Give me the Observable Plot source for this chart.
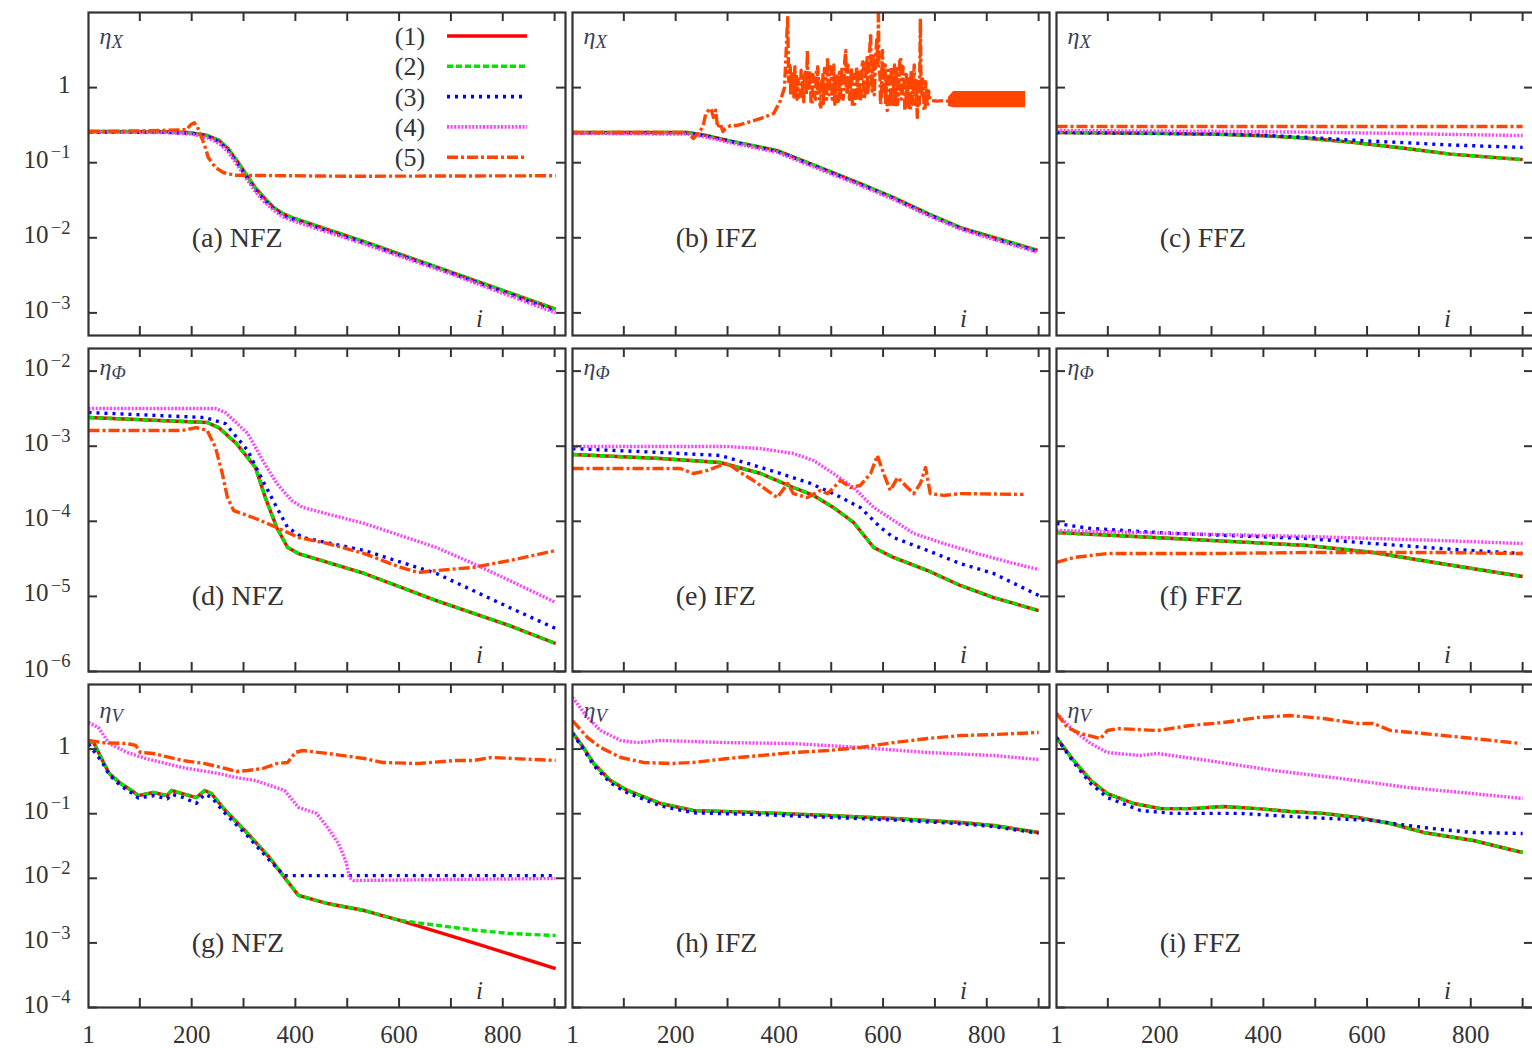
<!DOCTYPE html>
<html><head><meta charset="utf-8">
<script src="https://cdn.jsdelivr.net/npm/d3@7/dist/d3.min.js"></script>
<script src="https://cdn.jsdelivr.net/npm/@observablehq/plot@0.6/dist/plot.umd.min.js"></script>
<style>
body{margin:0;background:#fff;}
#chart{position:relative;width:1532px;height:1048px;overflow:hidden;background:#fff;}
#chart svg{position:absolute;overflow:visible;}
</style></head><body><div id="chart"></div>
<script>
// ---------------- data (x = iteration i, y = error eta) ----------------
const seriesNames = ["(1)", "(2)", "(3)", "(4)", "(5)"];
const panelLabels = ["(a) NFZ","(b) IFZ","(c) FFZ","(d) NFZ","(e) IFZ","(f) FFZ","(g) NFZ","(h) IFZ","(i) FFZ"];
const rowLabels = ["η_X", "η_Φ", "η_V"];
const xDomain = [1, 921];
const xTickValues = [100, 200, 300, 400, 500, 600, 700, 800, 900];
const xLabelValues = [1, 200, 400, 600, 800];
const yDomains = [[5e-4, 10], [1e-6, 2e-2], [1e-4, 10]];
const yTickValues = [[1e-3, 1e-2, 1e-1, 1], [1e-6, 1e-5, 1e-4, 1e-3, 1e-2], [1e-4, 1e-3, 1e-2, 1e-1, 1]];
const yTickLabels = [["10^−3", "10^−2", "10^−1", "1"], ["10^−6", "10^−5", "10^−4", "10^−3", "10^−2"], ["10^−4", "10^−3", "10^−2", "10^−1", "1"]];
const panelLabelX = 200;
const panelLabelY = [1e-2, 1e-5, 1e-3];
const iLabelX = 755;

// (a) NFZ, eta_X
const a1 = [[1,0.26],[150,0.258],[200,0.25],[230,0.23],[253,0.198],[270,0.155],[287,0.107],[305,0.07],[322,0.047],[340,0.034],[359,0.025],[376,0.021],[393,0.0186],[534,0.0088],[700,0.0035],[902,0.00112]];
const a2 = a1;
const a3 = [[1,0.255],[150,0.253],[200,0.245],[230,0.225],[253,0.19],[270,0.148],[287,0.1],[305,0.066],[322,0.044],[340,0.032],[359,0.024],[376,0.02],[393,0.0178],[534,0.0085],[700,0.0034],[902,0.00106]];
const a4 = [[1,0.255],[150,0.252],[200,0.24],[230,0.215],[253,0.18],[270,0.14],[287,0.095],[305,0.062],[322,0.042],[340,0.03],[359,0.023],[376,0.019],[393,0.017],[534,0.0082],[700,0.0033],[902,0.001]];
const a5 = [[1,0.26],[100,0.265],[150,0.27],[190,0.275],[198,0.32],[205,0.34],[211,0.3],[216,0.245],[225,0.17],[232,0.117],[246,0.086],[261,0.074],[283,0.068],[500,0.066],[902,0.067]];
// (b) IFZ, eta_X
const b1 = [[1,0.252],[223,0.252],[260,0.23],[300,0.198],[396,0.145],[493,0.0787],[556,0.0528],[620,0.0344],[686,0.0211],[749,0.0137],[813,0.0101],[898,0.0068]];
const b2 = b1;
const b3 = [[1,0.25],[223,0.249],[260,0.227],[300,0.195],[396,0.142],[493,0.077],[556,0.0515],[620,0.0336],[686,0.0206],[749,0.0134],[813,0.0098],[898,0.0066]];
const b4 = [[1,0.245],[223,0.24],[260,0.218],[300,0.188],[396,0.137],[493,0.074],[556,0.0497],[620,0.0324],[686,0.0199],[749,0.013],[813,0.0095],[898,0.0064]];
const b5 = [[1,0.252],[223,0.252],[234,0.21],[248,0.268],[254,0.333],[258,0.45],[263,0.496],[268,0.527],[273,0.4],[277,0.5],[281,0.294],[286,0.333],[291,0.26],[296,0.285],[306,0.313],[319,0.313],[339,0.343],[364,0.388],[389,0.452],[402,0.673],[410,1.0],
  [416,8.6],[418,1.2],[419,2.0],[421,1.85],[422,0.8],[424,1.6],[425,0.9],[427,1.25],[428,0.75],[430,1.9],[431,0.8],[433,1.5],[434,0.7],[436,1.3],[438,0.75],[441,0.834],[442,1.7],[444,1.3],[445,0.7],[447,0.65],[448,1.4],[450,1.6],[452,0.8],[454,3.12],[455,1.0],[457,0.9],[458,1.7],[460,1.14],[461,0.65],[463,0.6],[464,1.5],[466,1.4],[468,0.75],[470,0.7],[471,1.6],[473,0.834],[474,1.9],[476,1.2],[478,0.6],[480,0.55],[481,1.3],[483,0.9],[484,1.5],[485,0.614],[487,1.8],[489,1.4],[491,0.7],[493,2.52],[494,0.9],[496,0.8],[498,1.9],[500,1.6],[502,0.7],[504,1.14],[505,2.0],[507,0.6],[509,1.5],[511,1.3],[513,0.65],[515,0.7],[516,1.6],[518,0.738],[519,1.2],[521,1.9],[523,0.7],[524,0.9],[526,2.2],[528,3.12],[529,1.0],[531,0.8],[532,2.0],[534,1.7],[535,0.7],[537,1.0],[539,1.8],[541,0.55],[542,1.2],[544,1.5],[545,0.6],[547,0.7],[549,1.9],[551,0.738],[552,1.4],[554,1.6],[556,0.65],[558,0.9],[560,2.3],[562,2.09],[563,0.7],[565,0.8],[567,1.8],[569,2.5],[570,0.8],[572,1.1],[574,3.0],[576,5.25],[577,1.2],[579,0.9],[580,2.2],[582,2.8],[583,0.8],[585,1.85],[587,3.5],[588,4.5],[590,2.0],[591,12],[592,1.8],[594,1.5],[595,0.6],[597,0.7],[598,2.5],[599,3.12],[600,0.9],[602,1.2],[604,2.0],[605,0.6],[607,1.4],[608,0.496],[610,1.7],[611,1.1],[613,0.55],[614,0.6],[616,1.9],[617,1.5],[619,0.6],[620,0.834],[622,2.0],[624,0.55],[625,1.3],[627,1.8],[628,0.6],[630,0.9],[632,2.2],[634,2.52],[635,0.7],[637,0.8],[638,1.9],[640,1.6],[642,0.5],[644,0.55],[645,1.5],[647,0.614],[648,1.1],[650,1.3],[651,0.5],[653,0.5],[654,1.7],[656,1.4],[657,0.6],[659,1.14],[660,2.0],[662,0.6],[664,1.3],[666,0.4],[667,1.0],[669,1.2],[670,0.6],[672,8.3],[673,1.5],[675,0.8],[676,1.3],[678,1.14],[679,0.5],[681,0.5],[682,1.2],[684,0.9],[685,0.55],[686,0.614],[688,0.9],[691,0.673],
  [705,0.66],[717,0.673],[726,0.66],[875,0.7]];
const b5Band = [[726,0.56,0.74],[736,0.54,0.89],[875,0.54,0.89]];
// (c) FFZ, eta_X
const c1 = [[1,0.252],[150,0.248],[300,0.24],[400,0.228],[485,0.212],[568,0.188],[664,0.158],[761,0.13],[900,0.11]];
const c2 = c1;
const c3 = [[1,0.252],[150,0.248],[300,0.242],[400,0.232],[485,0.217],[568,0.2],[664,0.186],[761,0.172],[900,0.16]];
const c4 = [[1,0.268],[150,0.265],[300,0.262],[485,0.255],[664,0.245],[761,0.238],[900,0.23]];
const c5 = [[1,0.303],[300,0.303],[600,0.303],[900,0.303]];
// (d) NFZ, eta_Phi
const d1 = [[1,0.00241],[230,0.00207],[252,0.00177],[286,0.00109],[323,0.00052],[342,0.000207],[364,0.0000828],[385,0.0000448],[406,0.0000372],[533,0.0000202],[672,0.0000088],[813,0.00000409],[902,0.00000236]];
const d2 = d1;
const d3 = [[1,0.00281],[225,0.00241],[265,0.002],[308,0.000877],[337,0.000349],[364,0.000153],[385,0.0000828],[414,0.0000609],[533,0.0000408],[672,0.0000202],[813,0.0000071],[902,0.00000374]];
const d4 = [[1,0.00318],[246,0.00318],[265,0.00281],[308,0.00148],[337,0.000645],[364,0.000319],[393,0.000189],[414,0.000153],[533,0.0000935],[672,0.0000448],[743,0.0000274],[813,0.0000163],[902,0.0000083]];
const d5 = [[1,0.00162],[182,0.00162],[209,0.00177],[230,0.00162],[246,0.00096],[259,0.000433],[269,0.000207],[281,0.000139],[323,0.000109],[364,0.0000828],[406,0.0000609],[462,0.0000506],[533,0.0000372],[603,0.0000243],[637,0.0000208],[672,0.0000221],[743,0.0000243],[813,0.00003],[902,0.0000408]];
// (e) IFZ, eta_Phi
const e1 = [[1,0.000776],[171,0.000686],[286,0.000607],[364,0.000433],[427,0.000282],[466,0.000221],[504,0.000153],[543,0.0000965],[582,0.0000448],[620,0.000033],[686,0.0000221],[749,0.000014],[813,0.00000966],[900,0.00000648]];
const e2 = e1;
const e3 = [[1,0.00093],[171,0.000825],[286,0.000752],[339,0.000589],[396,0.000447],[460,0.000319],[504,0.000234],[556,0.000153],[595,0.0000828],[620,0.0000609],[686,0.0000408],[749,0.0000274],[813,0.0000202],[900,0.0000103]];
const e4 = [[1,0.00099],[300,0.00099],[364,0.00093],[427,0.0008],[466,0.000645],[504,0.000433],[543,0.000282],[582,0.000153],[620,0.000103],[659,0.000069],[717,0.0000506],[782,0.0000372],[846,0.0000282],[900,0.0000228]];
const e5 = [[1,0.000505],[209,0.000505],[234,0.000433],[261,0.000475],[286,0.000554],[300,0.000589],[325,0.000447],[350,0.000349],[377,0.000257],[396,0.000207],[416,0.000319],[427,0.000234],[454,0.000207],[479,0.000257],[493,0.000234],[518,0.000349],[537,0.000282],[556,0.0003],[576,0.000433],[589,0.000752],[601,0.000433],[614,0.000257],[628,0.000383],[647,0.000282],[659,0.000234],[672,0.000319],[682,0.00052],[691,0.000234],[717,0.000221],[749,0.000234],[871,0.000228]];
// (f) FFZ, eta_Phi
const f1 = [[1,0.000071],[227,0.000059],[485,0.0000476],[612,0.0000384],[742,0.0000274],[900,0.0000184]];
const f2 = f1;
const f3 = [[1,0.0000935],[67,0.0000802],[227,0.000069],[485,0.000059],[612,0.0000506],[742,0.0000434],[900,0.0000372]];
const f4 = [[1,0.0000755],[227,0.000069],[485,0.0000628],[742,0.0000555],[900,0.0000506]];
const f5 = [[1,0.0000283],[35,0.000033],[99,0.0000372],[292,0.0000372],[485,0.0000384],[612,0.0000384],[742,0.0000384],[900,0.0000372]];
// (g) NFZ, eta_V
const g1 = [[1,1.3],[11,1.26],[28,0.667],[41,0.419],[63,0.293],[84,0.229],[97,0.191],[126,0.213],[153,0.191],[161,0.229],[182,0.205],[209,0.178],[225,0.229],[238,0.205],[265,0.112],[308,0.0494],[350,0.021],[379,0.0103],[406,0.00542],[462,0.00407],[533,0.00317],[603,0.00222],[744,0.001],[902,0.000401]];
const g2 = [[1,1.3],[11,1.26],[28,0.667],[41,0.419],[63,0.293],[84,0.229],[97,0.191],[126,0.213],[153,0.191],[161,0.229],[182,0.205],[209,0.178],[225,0.229],[238,0.205],[265,0.112],[308,0.0494],[350,0.021],[379,0.0103],[406,0.00542],[462,0.00407],[533,0.00317],[603,0.00222],[744,0.00158],[813,0.0014],[902,0.0013]];
const g3 = [[1,1.2],[28,0.62],[41,0.4],[63,0.27],[84,0.21],[97,0.175],[126,0.19],[153,0.17],[161,0.2],[182,0.18],[209,0.145],[225,0.2],[238,0.18],[265,0.1],[308,0.045],[350,0.019],[379,0.011],[393,0.011],[902,0.011]];
const g4 = [[1,2.58],[20,2.16],[41,1.22],[76,0.886],[111,0.715],[182,0.519],[252,0.419],[286,0.363],[323,0.326],[379,0.229],[406,0.125],[441,0.101],[462,0.0611],[483,0.0346],[497,0.0189],[504,0.0103],[512,0.00925],[902,0.00993]];
const g5 = [[1,1.36],[28,1.26],[76,1.22],[92,1.14],[101,0.886],[126,0.855],[182,0.667],[225,0.598],[265,0.501],[286,0.45],[308,0.467],[337,0.501],[364,0.598],[385,0.621],[400,0.886],[414,0.951],[462,0.855],[533,0.715],[568,0.621],[637,0.598],[709,0.667],[744,0.667],[778,0.741],[902,0.667]];
// (h) IFZ, eta_V
const h1 = [[1,1.81],[22,1.06],[42,0.598],[74,0.327],[107,0.229],[171,0.144],[234,0.112],[364,0.104],[493,0.0938],[620,0.0843],[749,0.0731],[813,0.0657],[900,0.0512]];
const h2 = h1;
const h3 = [[1,1.75],[22,1.0],[42,0.56],[74,0.3],[107,0.21],[171,0.132],[234,0.103],[364,0.097],[493,0.088],[620,0.08],[749,0.07],[813,0.063],[900,0.05]];
const h4 = [[1,6.3],[30,3.08],[55,1.94],[94,1.36],[126,1.26],[171,1.36],[300,1.26],[427,1.22],[556,1.06],[686,0.885],[813,0.796],[900,0.69]];
const h5 = [[1,2.77],[30,1.51],[55,1.06],[94,0.741],[138,0.621],[190,0.598],[234,0.621],[300,0.715],[364,0.796],[427,0.885],[493,0.951],[556,1.06],[620,1.26],[686,1.46],[749,1.62],[813,1.68],[900,1.81]];
// (i) FFZ, eta_V
const i1 = [[1,1.51],[34,0.667],[67,0.327],[99,0.205],[150,0.144],[202,0.12],[259,0.12],[323,0.129],[389,0.12],[452,0.108],[516,0.101],[582,0.0873],[645,0.0705],[709,0.0512],[805,0.0385],[900,0.0251]];
const i2 = i1;
const i3 = [[1,1.51],[34,0.621],[67,0.293],[99,0.178],[163,0.112],[227,0.101],[356,0.101],[485,0.0873],[612,0.0785],[678,0.0657],[742,0.0569],[805,0.0512],[900,0.0494]];
const i4 = [[1,3.56],[34,1.94],[67,1.22],[99,0.885],[163,0.796],[196,0.855],[292,0.667],[420,0.467],[549,0.351],[678,0.255],[805,0.205],[900,0.172]];
const i5 = [[1,3.56],[22,2.16],[47,1.74],[86,1.46],[99,1.94],[119,2.08],[196,1.94],[259,2.32],[323,2.58],[389,3.08],[452,3.31],[516,2.98],[582,2.49],[612,2.49],[645,1.94],[709,1.74],[805,1.46],[896,1.22]];

const panelSeries = [
  [a1,a2,a3,a4,a5],[b1,b2,b3,b4,b5],[c1,c2,c3,c4,c5],
  [d1,d2,d3,d4,d5],[e1,e2,e3,e4,e5],[f1,f2,f3,f4,f5],
  [g1,g2,g3,g4,g5],[h1,h2,h3,h4,h5],[i1,i2,i3,i4,i5]
];

// ---------------- styles & layout ----------------
const colors = ["#ff0000", "#00e400", "#0000ff", "#ff40ff", "#ff4500"];
const dashes = [null, "6,3", "3,5", "2,1.6", "11,3,3,3"];
const ink = "#333";
const font = "'Liberation Serif', 'DejaVu Serif', serif";
const colLeft = [88, 572, 1056], rowTop = [12, 348, 684];
const W = 477, H = 323, tickLen = 9;
const etaDy = [14, 9, 16];
const SVGNS = "http://www.w3.org/2000/svg";

function richText(svg) {
  svg.querySelectorAll("text").forEach(el => {
    const t = el.textContent;
    const m = t.match(/^(.*?)([\^_])(.+)$/);
    if (!m) return;
    while (el.firstChild) el.removeChild(el.firstChild);
    const base = document.createElementNS(SVGNS, "tspan");
    base.textContent = m[1];
    el.appendChild(base);
    const sup = m[2] === "^";
    const s = document.createElementNS(SVGNS, "tspan");
    s.setAttribute("dy", sup ? "-0.5em" : "0.25em");
    if (sup) s.setAttribute("dx", "0.12em");
    s.setAttribute("font-size", sup ? "0.74em" : "0.78em");
    s.textContent = m[3];
    el.appendChild(s);
  });
}

const chart = document.getElementById("chart");
for (let r = 0; r < 3; r++) {
  for (let c = 0; c < 3; c++) {
    const idx = r * 3 + c;
    const ml = c === 0 ? 90 : 10, mr = 10, mt = 10, mb = r === 2 ? 48 : 10;
    const marks = [];
    if (idx === 1) marks.push(Plot.areaY(b5Band, {x: d => d[0], y1: d => d[1], y2: d => d[2], fill: colors[4], clip: true}));
    panelSeries[idx].forEach((s, k) => marks.push(Plot.line(s, {
      x: d => d[0], y: d => d[1], stroke: colors[k], strokeWidth: 3.4,
      strokeDasharray: dashes[k] || undefined, strokeLinecap: "butt", strokeLinejoin: "round", clip: true
    })));
    marks.push(Plot.ruleX(xTickValues, {x: d => d, insetBottom: H - tickLen, stroke: ink, strokeWidth: 2}));
    marks.push(Plot.ruleX(xTickValues, {x: d => d, insetTop: H - tickLen, stroke: ink, strokeWidth: 2}));
    marks.push(Plot.ruleY(yTickValues[r], {y: d => d, insetRight: W - tickLen, stroke: ink, strokeWidth: 2}));
    marks.push(Plot.ruleY(yTickValues[r], {y: d => d, insetLeft: W - tickLen, stroke: ink, strokeWidth: 2}));
    marks.push(Plot.frame({stroke: ink, strokeWidth: 2.2}));
    marks.push(Plot.text([panelLabels[idx]], {x: panelLabelX, y: panelLabelY[r], text: d => d, textAnchor: "start", fontSize: 28, fill: ink}));
    marks.push(Plot.text(["i"], {x: iLabelX, frameAnchor: "bottom", dy: -9, text: d => d, fontStyle: "italic", fontSize: 25, fill: ink}));
    marks.push(Plot.text([rowLabels[r]], {frameAnchor: "top-left", dx: 11, dy: etaDy[r], text: d => d, textAnchor: "start", fontStyle: "italic", fontSize: 24, fill: "#3a3f55"}));
    if (c === 0) marks.push(Plot.text(yTickValues[r], {y: d => d, text: (d, i) => yTickLabels[r][i], frameAnchor: "left", dx: -18, dy: -3, textAnchor: "end", fontSize: 25, fill: ink}));
    if (r === 2) marks.push(Plot.text(xLabelValues, {x: d => d, text: d => String(d), frameAnchor: "bottom", dy: 35, fontSize: 25, fill: ink}));

    const svg = Plot.plot({
      width: W + ml + mr, height: H + mt + mb,
      marginLeft: ml, marginRight: mr, marginTop: mt, marginBottom: mb,
      x: {domain: xDomain, axis: null},
      y: {type: "log", domain: yDomains[r], axis: null},
      style: {fontFamily: font, background: "transparent", overflow: "visible"},
      marks
    });
    richText(svg);
    svg.style.left = (colLeft[c] - ml) + "px";
    svg.style.top = (rowTop[r] - mt) + "px";
    chart.appendChild(svg);
  }
}

// legend inside panel (a)
const leg = document.createElementNS(SVGNS, "svg");
leg.setAttribute("width", 170); leg.setAttribute("height", 170);
leg.style.left = "385px"; leg.style.top = "18px"; leg.style.fontFamily = font;
seriesNames.forEach((name, k) => {
  const y = 18 + k * 30.3;
  const t = document.createElementNS(SVGNS, "text");
  t.setAttribute("x", 25); t.setAttribute("y", y); t.setAttribute("dy", "0.35em");
  t.setAttribute("text-anchor", "middle"); t.setAttribute("font-size", 26); t.setAttribute("fill", ink);
  t.textContent = name; leg.appendChild(t);
  const l = document.createElementNS(SVGNS, "line");
  l.setAttribute("x1", 62); l.setAttribute("x2", 142); l.setAttribute("y1", y); l.setAttribute("y2", y);
  l.setAttribute("stroke", colors[k]); l.setAttribute("stroke-width", 3.6);
  if (dashes[k]) l.setAttribute("stroke-dasharray", dashes[k]);
  l.setAttribute("stroke-linecap", "butt");
  leg.appendChild(l);
});
chart.appendChild(leg);
</script></body></html>
